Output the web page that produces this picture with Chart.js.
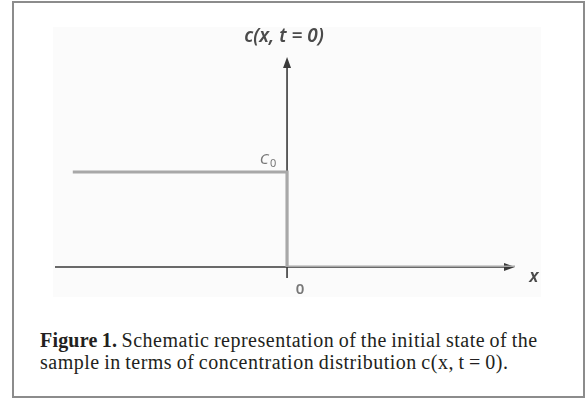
<!DOCTYPE html>
<html lang="en">
<head>
  <meta charset="UTF-8">
  <title>Initial concentration distribution</title>
  <script src="https://cdn.jsdelivr.net/npm/chart.js"></script>
  <style>
    html, body { margin: 0; padding: 0; background: #fff; }
    #frame {
      position: absolute; left: 12px; top: 1px; width: 569px; height: 393px;
      border: 2px solid #8c8c8c; box-sizing: content-box;
    }
    #plot {
      position: absolute; left: 53px; top: 27px; width: 488px; height: 270px;
      background: #fbfbfb;
    }
    #caption {
      position: absolute; left: 40px; top: 329px; width: 545px; white-space: nowrap;
      font-family: "Liberation Serif", "DejaVu Serif", serif; font-size: 20px;
      line-height: 22px; color: #231f20; letter-spacing: 0.5px; word-spacing: -1px;
    }
    #caption b { font-weight: bold; letter-spacing: 0.2px; }
  </style>
</head>
<body>
  <div id="frame"></div>
  <div id="plot"><canvas id="stepChart" width="488" height="270"></canvas></div>
  <div id="caption"><b>Figure 1.</b> Schematic representation of the initial state of the<br>sample in terms of concentration distribution c(x, t&nbsp;=&nbsp;0).</div>

  <script>
    // step profile c(x, t = 0), C0 = 1
    const stepX = [-0.94, 0, 0, 1.0];
    const stepY = [1, 1, 0, 0];
    const xRange = [-1.018, 1.0];
    const yRange = [0, 2.21];
    const c0 = 1;

    const axesPlugin = {
      id: 'axes',
      beforeDatasetsDraw(chart) {
        const { ctx, scales: { x, y } } = chart;
        const ox = x.getPixelForValue(0), oy = y.getPixelForValue(0);
        const left = x.getPixelForValue(xRange[0]), right = x.getPixelForValue(xRange[1]);
        const top = y.getPixelForValue(yRange[1]);
        ctx.save();
        ctx.strokeStyle = '#3a3a3a';
        ctx.fillStyle = '#3a3a3a';
        ctx.lineWidth = 1.6;
        ctx.beginPath();
        ctx.moveTo(left, oy); ctx.lineTo(right - 8, oy);
        ctx.moveTo(ox, oy + 11); ctx.lineTo(ox, top + 8);
        ctx.stroke();
        // arrow heads
        ctx.beginPath();
        ctx.moveTo(right, oy); ctx.lineTo(right - 11, oy - 4); ctx.lineTo(right - 11, oy + 4); ctx.closePath();
        ctx.moveTo(ox, top); ctx.lineTo(ox - 4, top + 11); ctx.lineTo(ox + 4, top + 11); ctx.closePath();
        ctx.fill();
        ctx.restore();
      },
      afterDatasetsDraw(chart) {
        const { ctx, scales: { x, y } } = chart;
        const ox = x.getPixelForValue(0), oy = y.getPixelForValue(0);
        const right = x.getPixelForValue(xRange[1]);
        const top = y.getPixelForValue(yRange[1]);
        const cy = y.getPixelForValue(c0);
        ctx.save();
        ctx.textAlign = 'center';
        ctx.textBaseline = 'middle';
        ctx.fillStyle = '#4a4a4a';
        ctx.font = 'italic 600 19px "Noto Sans", "DejaVu Sans", sans-serif';
        ctx.fillText('c(x, t = 0)', ox - 3, top - 20);
        ctx.font = 'italic 600 18px "Noto Sans", "DejaVu Sans", sans-serif';
        ctx.fillText('x', right + 19, oy + 10);
        ctx.fillStyle = '#777';
        ctx.font = 'italic 15px "Noto Sans", sans-serif';
        ctx.fillText('C', ox - 23, cy - 12);
        ctx.font = '11px "Noto Sans", sans-serif';
        ctx.fillText('0', ox - 14, cy - 8);
        ctx.font = '600 15px "Noto Sans", sans-serif';
        ctx.fillText('0', ox + 13, oy + 23);
        ctx.restore();
      }
    };

    new Chart(document.getElementById('stepChart'), {
      type: 'scatter',
      data: {
        datasets: [{
          data: stepX.map((v, i) => ({ x: v, y: stepY[i] })),
          showLine: true,
          borderColor: '#a8a8a8',
          borderWidth: 3.2,
          pointRadius: 0,
          tension: 0
        }]
      },
      options: {
        responsive: false,
        animation: false,
        layout: { padding: { left: 2, right: 26, top: 30, bottom: 30 } },
        plugins: { legend: { display: false }, tooltip: { enabled: false } },
        scales: {
          x: { type: 'linear', min: xRange[0], max: xRange[1], display: false },
          y: { type: 'linear', min: yRange[0], max: yRange[1], display: false }
        }
      },
      plugins: [axesPlugin]
    });
  </script>
</body>
</html>
